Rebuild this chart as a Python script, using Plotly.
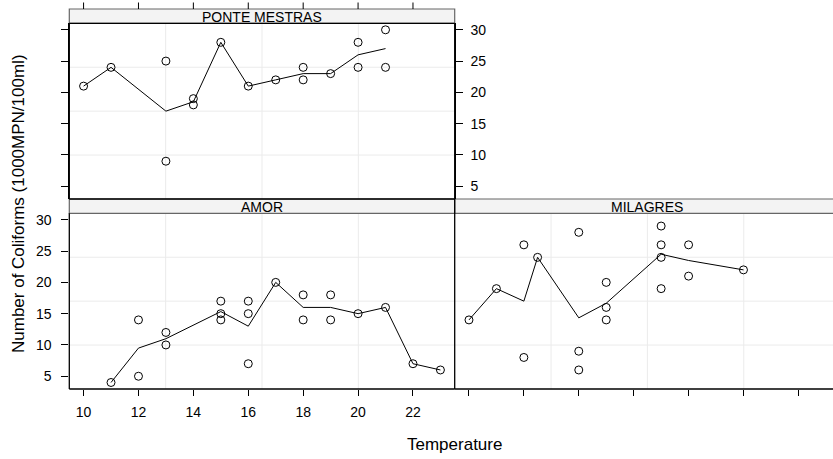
import pandas as pd
import plotly.graph_objects as go

W, H = 833, 459

# Coliform counts against water temperature, one panel per site
site_names = ["AMOR", "MILAGRES", "PONTE MESTRAS"]

amor_temp = [11, 12, 12, 13, 13, 15, 15, 15, 16, 16, 16, 17, 18, 18, 19, 19, 20, 21, 22, 23]
amor_coli = [4, 14, 5, 12, 10, 17, 15, 14, 17, 15, 7, 20, 18, 14, 18, 14, 15, 16, 7, 6]

milagres_temp = [10, 11, 12, 12, 12.5, 14, 14, 14, 15, 15, 15, 17, 17, 17, 17, 18, 18, 20]
milagres_coli = [14, 19, 26, 8, 24, 28, 9, 6, 20, 16, 14, 29, 26, 24, 19, 26, 21, 22]

ponte_temp = [10, 11, 13, 13, 14, 14, 15, 16, 17, 18, 18, 19, 20, 20, 21, 21]
ponte_coli = [21, 24, 25, 9, 19, 18, 28, 21, 22, 24, 22, 23, 28, 24, 30, 24]

x_ticks = [10, 12, 14, 16, 18, 20, 22]
y_ticks = [5, 10, 15, 20, 25, 30]

FONT = "Liberation Sans, Arial, Helvetica, sans-serif"

# shared scales, padded by 4% like lattice
all_t = amor_temp + milagres_temp + ponte_temp
all_c = amor_coli + milagres_coli + ponte_coli
tpad = 0.04 * (max(all_t) - min(all_t))
cpad = 0.04 * (max(all_c) - min(all_c))
x_lo, x_hi = min(all_t) - tpad, max(all_t) + tpad
y_lo, y_hi = min(all_c) - cpad, max(all_c) + cpad

# panel geometry in pixels
left = 69.3
pw = 385.4
strip_h = 14.3
top_strip = 9.0
top_panel_top = top_strip + strip_h
top_panel_bot = 199.0
bot_panel_top = top_panel_bot + strip_h
bot_panel_bot = 389.0
mid = left + pw
ppu = pw / (x_hi - x_lo)
x_hi_right = x_lo + (W - mid) / ppu  # right column runs off the page


def fx(p):
    return p / W


def fy(p):
    return 1 - p / H


def temp_to_px(t):
    # same linear mapping as the left-column x axes
    return left + (t - x_lo) * ppu


fig = go.Figure()

panels = [
    ("x", "y", amor_temp, amor_coli),
    ("x2", "y2", milagres_temp, milagres_coli),
    ("x3", "y3", ponte_temp, ponte_coli),
]
for xa, ya, t, c in panels:
    df = pd.DataFrame({"t": t, "c": c})
    avg = df.groupby("t", as_index=False)["c"].mean().sort_values("t")
    fig.add_trace(go.Scatter(
        x=avg["t"], y=avg["c"], mode="lines",
        line=dict(color="black", width=1), xaxis=xa, yaxis=ya,
        hoverinfo="skip", showlegend=False))
    fig.add_trace(go.Scatter(
        x=df["t"], y=df["c"], mode="markers",
        marker=dict(symbol="circle-open", size=8, color="black",
                    line=dict(width=1, color="black")),
        xaxis=xa, yaxis=ya, showlegend=False))

tickfont = dict(family=FONT, size=14, color="black")
base_x = dict(tickmode="array", tickvals=x_ticks, ticks="outside", ticklen=6,
              tickwidth=1, tickcolor="black", showgrid=False, zeroline=False,
              showline=False, tickfont=tickfont, fixedrange=True)
base_y = dict(range=[y_lo, y_hi], tickmode="array", tickvals=y_ticks,
              ticks="outside", ticklen=7, tickwidth=1, tickcolor="black",
              showgrid=False, zeroline=False, showline=False,
              tickfont=tickfont, fixedrange=True)

fig.update_layout(
    width=W, height=H,
    margin=dict(l=0, r=0, t=0, b=0, autoexpand=False),
    paper_bgcolor="white", plot_bgcolor="white",
    xaxis=dict(base_x, domain=[fx(left), fx(mid)], range=[x_lo, x_hi],
               anchor="y", side="bottom", showticklabels=True,
               ticklabelstandoff=4),
    yaxis=dict(base_y, domain=[fy(bot_panel_bot), fy(bot_panel_top)],
               anchor="x", side="left", showticklabels=True,
               ticklabelstandoff=7),
    xaxis2=dict(base_x, domain=[fx(mid), 1], range=[x_lo, x_hi_right],
                anchor="y2", side="bottom", showticklabels=False),
    yaxis2=dict(base_y, domain=[fy(bot_panel_bot), fy(bot_panel_top)],
                anchor="x2", ticks="", showticklabels=False),
    xaxis3=dict(base_x, domain=[fx(left), fx(mid)], range=[x_lo, x_hi],
                anchor="y3", side="top", ticks="", showticklabels=False),
    yaxis3=dict(base_y, domain=[fy(top_panel_bot), fy(top_panel_top)],
                anchor="x3", side="right", showticklabels=True,
                mirror="ticks", showline=True, linecolor="black", linewidth=1,
                ticklabelstandoff=5),
)

shapes = []
grid_col = "#ebebeb"
# light reference grid: three evenly spaced lines each way
for xa, ya, xr in [("x", "y", (x_lo, x_hi)), ("x2", "y2", (x_lo, x_hi)), ("x3", "y3", (x_lo, x_hi))]:
    for k in (1, 2, 3):
        gx = xr[0] + (xr[1] - xr[0]) * k / 4
        gy = y_lo + (y_hi - y_lo) * k / 4
        shapes.append(dict(type="line", xref=xa, yref=ya + " domain", x0=gx, x1=gx,
                           y0=0, y1=1, line=dict(color=grid_col, width=1), layer="below"))
        shapes.append(dict(type="line", xref=xa + " domain", yref=ya, x0=0, x1=1,
                           y0=gy, y1=gy, line=dict(color=grid_col, width=1), layer="below"))

# strips
strip_fill = "#f3f3f3"
strip_line = dict(color="#666666", width=1.2)
for x0, x1, y0, y1 in [(left, mid, top_strip, top_panel_top),
                       (left, mid, top_panel_bot, bot_panel_top),
                       (mid, W + 10, top_panel_bot, bot_panel_top)]:
    shapes.append(dict(type="rect", xref="paper", yref="paper",
                       x0=fx(x0), x1=fx(x1), y0=fy(y1), y1=fy(y0),
                       fillcolor=strip_fill, line=strip_line, layer="below"))

# top panel tick marks, on the upper edge of its strip
for t in x_ticks:
    px = temp_to_px(t)
    shapes.append(dict(type="line", xref="paper", yref="paper", x0=fx(px), x1=fx(px),
                       y0=fy(top_strip), y1=fy(top_strip - 6.5),
                       line=dict(color="black", width=1), layer="above"))

# panel borders
border = dict(color="black", width=1.3)
segs = [
    # top panel
    (left, top_panel_top, mid, top_panel_top),
    (left, top_panel_top, left, top_panel_bot),
    (mid, top_panel_top, mid, top_panel_bot),
    (left, top_panel_bot, mid, top_panel_bot),
    # bottom-left panel
    (left, bot_panel_top, left, bot_panel_bot),
    (left, bot_panel_bot, mid, bot_panel_bot),
    (mid, top_panel_bot, mid, bot_panel_bot),
    # bottom-right panel
    (mid, bot_panel_bot, W + 10, bot_panel_bot),
]
for x0, y0, x1, y1 in segs:
    shapes.append(dict(type="line", xref="paper", yref="paper",
                       x0=fx(x0), y0=fy(y0), x1=fx(x1), y1=fy(y1),
                       line=border, layer="above"))

fig.update_layout(shapes=shapes)

annotations = []
strip_font = dict(family=FONT, size=14, color="black")
for name, cx, cy in [("AMOR", left + pw / 2, top_panel_bot + strip_h / 2 + 1.2),
                     ("MILAGRES", mid + pw / 2, top_panel_bot + strip_h / 2 + 1.2),
                     ("PONTE MESTRAS", left + pw / 2, top_strip + strip_h / 2 + 1.2)]:
    annotations.append(dict(text=name, xref="paper", yref="paper",
                            x=fx(cx), y=fy(cy), xanchor="center", yanchor="middle",
                            showarrow=False, font=strip_font))

title_font = dict(family=FONT, size=17, color="black")
annotations.append(dict(text="Temperature", xref="paper", yref="paper",
                        x=fx(454), y=fy(444), xanchor="center", yanchor="middle",
                        showarrow=False, font=title_font))
annotations.append(dict(text="Number of Coliforms (1000MPN/100ml)", xref="paper",
                        yref="paper", x=fx(18), y=fy(204), xanchor="center",
                        yanchor="middle", textangle=-90, showarrow=False,
                        font=title_font))
fig.update_layout(annotations=annotations)

fig.write_html("out.html")
